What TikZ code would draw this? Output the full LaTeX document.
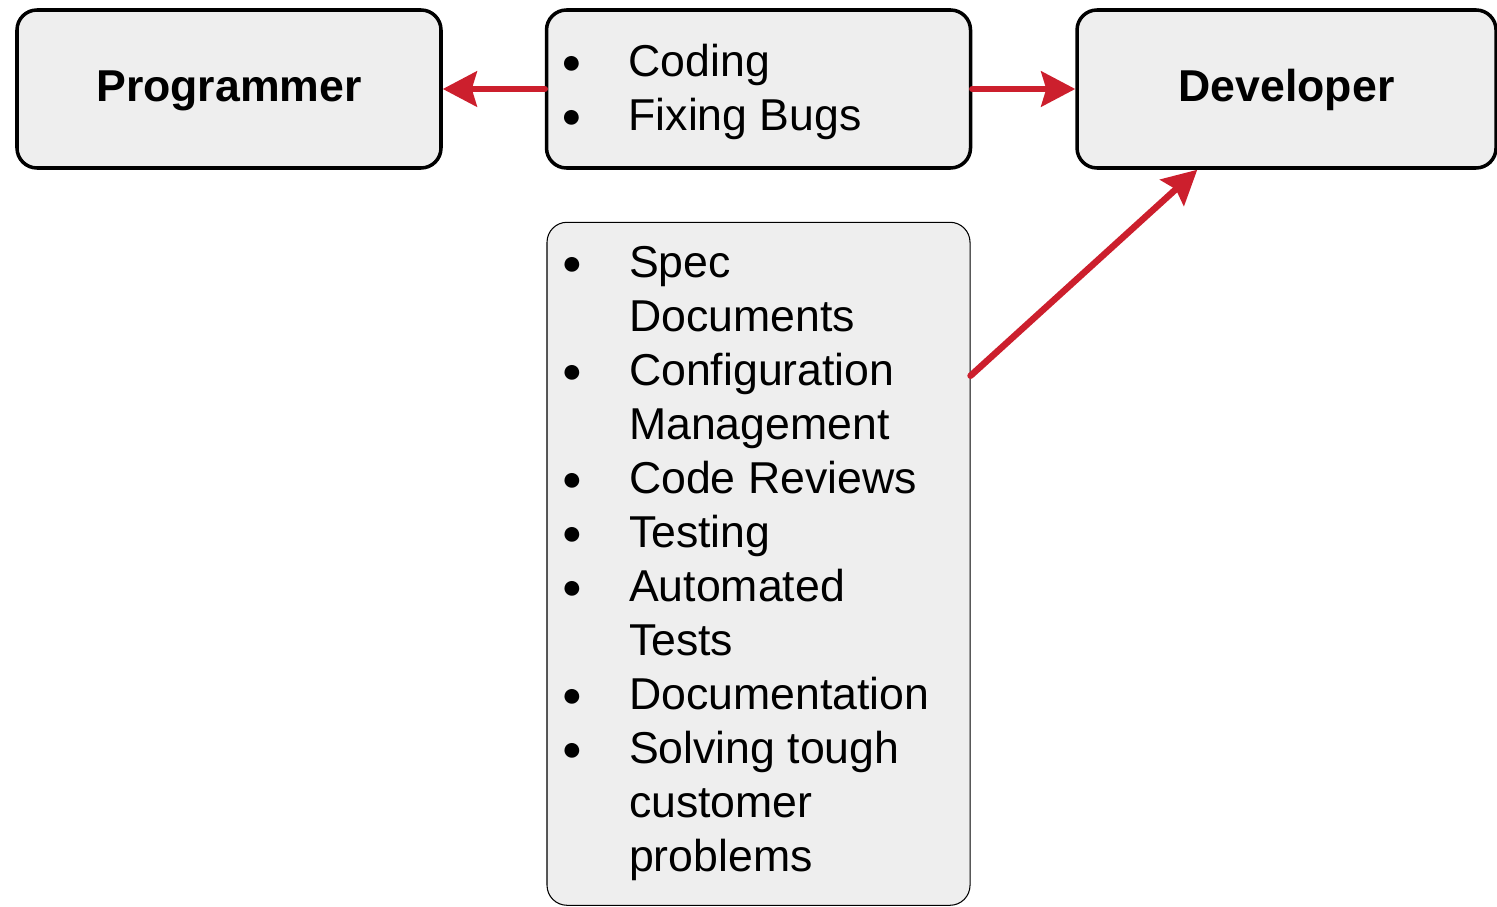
\documentclass[tikz,border=0pt]{standalone}
\usepackage{fontspec}
\setmainfont{Liberation Sans}
\usepackage{tikz}
\usetikzlibrary{positioning}
\usetikzlibrary{arrows.meta}

\definecolor{cardgray}{HTML}{EEEEEE}
\definecolor{linkred}{HTML}{CC1F2D}

\newcommand{\bul}{\hspace{-0.05cm}\raisebox{0.06cm}{\fontsize{19.5pt}{19.5pt}\selectfont ●}}

\tikzset{
  card/.style={draw, fill=cardgray, rounded corners=0.4cm, inner xsep=0.34cm,
    font=\fontsize{25.4pt}{30.7pt}\selectfont},
  thickcard/.style={card, line width=2pt, minimum height=3.16cm},
  rolecard/.style={thickcard, font=\fontsize{25.4pt}{30.7pt}\selectfont\bfseries,
    text height=21.4pt, text depth=6.7pt},
  taskcard/.style={card, line width=0.6pt, minimum width=8.46cm, minimum height=13.66cm},
  link/.style={-{Stealth[length=0.68cm, width=0.7cm, inset=0.1cm]}, line width=0.13cm, linkred, line cap=round}
}

\begin{document}
\begin{tikzpicture}
    \useasboundingbox (0,0) rectangle (29.94,18.12);
    % nodes %
    \node[rolecard, minimum width=8.48cm] (prog) at (4.58,16.34) {Programmer};
    \node[thickcard, right=2.04cm of prog, minimum width=8.48cm] (bugs) {\makebox[7.8cm][l]{%
      \raisebox{-0.07cm}[\height][\depth]{\begin{tabular}{@{}p{1.3cm}@{}l@{}}
        \bul & Coding\\
        \bul & Fixing Bugs
      \end{tabular}}}};
    \node[rolecard, right=2.06cm of bugs, minimum width=8.38cm] (dev) {Developer};
    \node[taskcard, below=1.04cm of bugs] (tasks) {\makebox[7.78cm][l]{%
      \begin{tabular}{@{}p{1.3cm}@{}l@{}}
        \bul & Spec\\
             & Documents\\
        \bul & Configuration\\
             & Management\\
        \bul & Code Reviews\\
        \bul & Testing\\
        \bul & Automated\\
             & Tests\\
        \bul & Documentation\\
        \bul & Solving tough\\
             & customer\\
             & problems
      \end{tabular}}};
    % edges %
    \draw[link] (bugs.west) -- (prog.east);
    \draw[link] (bugs.east) -- (dev.west);
    \draw[link] ([yshift=-3.08cm]tasks.north east) -- ([xshift=2.44cm]dev.south west);
\end{tikzpicture}
\end{document}
